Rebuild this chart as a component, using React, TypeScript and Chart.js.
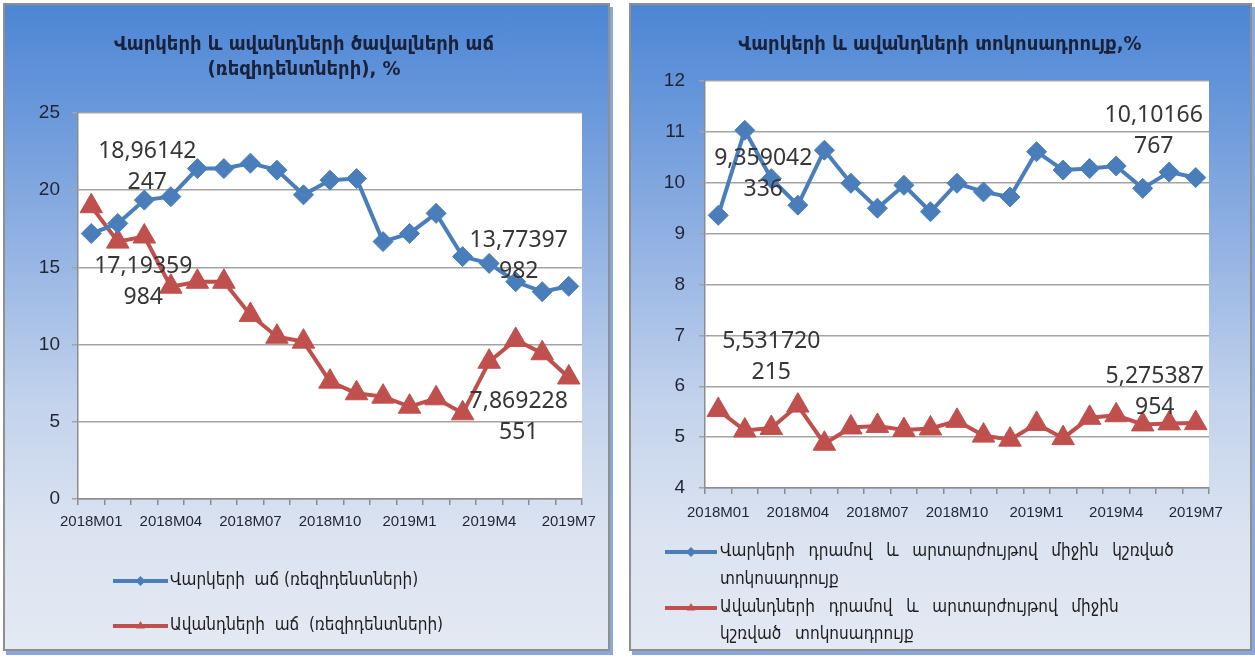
import React, { useEffect, useRef } from 'react';
import { Chart, registerables } from 'chart.js';

Chart.register(...registerables);

// ---------- DATA ----------
const months = [
  '2018M01', '2018M02', '2018M03', '2018M04', '2018M05', '2018M06',
  '2018M07', '2018M08', '2018M09', '2018M10', '2018M11', '2018M12',
  '2019M1', '2019M2', '2019M3', '2019M4', '2019M5', '2019M6', '2019M7',
];

// Left chart: growth of loans / deposits (residents), %
const loanGrowth = [
  17.19359984, 17.85, 19.36, 19.58, 21.4, 21.4, 21.75, 21.3, 19.7, 20.65,
  20.75, 16.67, 17.2, 18.5, 15.7, 15.26, 14.07, 13.43, 13.77397982,
];
const depositGrowth = [
  18.96142247, 16.67, 17.0, 13.75, 14.07, 14.07, 11.92, 10.51, 10.19, 7.6,
  6.85, 6.63, 5.98, 6.52, 5.55, 8.89, 10.3, 9.44, 7.869228551,
];

// Right chart: interest rates, %
const loanRate = [
  9.359042336, 11.03, 10.08, 9.56, 10.64, 9.99, 9.5, 9.95, 9.43, 9.99,
  9.82, 9.72, 10.61, 10.25, 10.28, 10.33, 9.89, 10.21, 10.10166767,
];
const depositRate = [
  5.531720215, 5.13, 5.18, 5.62, 4.87, 5.19, 5.22, 5.14, 5.17, 5.32,
  5.03, 4.95, 5.26, 4.98, 5.38, 5.43, 5.25, 5.27, 5.275387954,
];

const leftTicks = [0, 5, 10, 15, 20, 25];
const rightTicks = [4, 5, 6, 7, 8, 9, 10, 11, 12];

const leftTitle = ['Վարկերի և ավանդների ծավալների աճ', '(ռեզիդենտների), %'];
const rightTitle = ['Վարկերի և ավանդների տոկոսադրույք,%'];

const leftLegend = [
  ['Վարկերի  աճ (ռեզիդենտների)'],
  ['Ավանդների  աճ  (ռեզիդենտների)'],
];
const rightLegend = [
  ['Վարկերի  դրամով  և  արտարժույթով  միջին  կշռված', 'տոկոսադրույք'],
  ['Ավանդների  դրամով  և  արտարժույթով  միջին', 'կշռված  տոկոսադրույք'],
];

// ---------- STYLE ----------
const BLUE = '#4a7ebb';
const RED = '#c0504d';
const ARM_FONT = '"DejaVu Sans Condensed", "DejaVu Sans", sans-serif';
const NUM_FONT = '"Liberation Sans", Arial, sans-serif';
const LABEL_FONT = '"Noto Sans", "Open Sans", sans-serif';
const GRID = '#a3a3a3';
const AXIS = '#8c8c8c';
const TICK_COLOR = '#1f2533';

function fmt(v: number) {
  const s = String(v).replace('.', ',');
  return [s.slice(0, 8), s.slice(8)].filter((t) => t.length > 0);
}

function drawMarker(ctx: CanvasRenderingContext2D, style: string, x: number, y: number, r: number, color: string) {
  ctx.save();
  ctx.fillStyle = color;
  ctx.beginPath();
  if (style === 'rectRot') {
    ctx.moveTo(x, y - r);
    ctx.lineTo(x + r, y);
    ctx.lineTo(x, y + r);
    ctx.lineTo(x - r, y);
  } else {
    const h = r * 1.5;
    const w = r * Math.sqrt(3);
    ctx.moveTo(x, y - r);
    ctx.lineTo(x + w / 2, y - r + h);
    ctx.lineTo(x - w / 2, y - r + h);
  }
  ctx.closePath();
  ctx.fill();
  ctx.restore();
}

type LabelSpec = { ds: number; idx: number; dx: number; dy: number };
type PanelSpec = {
  width: number;
  height: number;
  yMin: number;
  yMax: number;
  yStep: number;
  yTicks: number[];
  yWidth: number;
  yPad: number;
  xPad: number;
  xFont: number;
  padding: { top: number; right: number; bottom: number };
  series: { label: string; data: number[]; color: string; style: string; radius: number }[];
  title: string[];
  titleY: number[];
  titleX: number;
  titleFont: number;
  legend: string[][];
  legendLine: [number, number];
  legendTextX: number;
  legendY: number[][];
  legendFont: number;
  legendWordSpacing: number;
  labels: LabelSpec[];
};

function buildChart(canvas: HTMLCanvasElement, p: PanelSpec) {
  const decor = {
    id: 'decor',
    beforeDraw(chart: any) {
      const { ctx, chartArea } = chart;
      ctx.save();
      ctx.fillStyle = '#ffffff';
      ctx.fillRect(chartArea.left, chartArea.top, chartArea.right - chartArea.left, chartArea.bottom - chartArea.top);
      ctx.restore();
    },
    afterDatasetsDraw(chart: any) {
      const ctx: CanvasRenderingContext2D = chart.ctx;
      ctx.save();
      ctx.font = `23px ${LABEL_FONT}`;
      ctx.fillStyle = '#363636';
      ctx.textAlign = 'center';
      ctx.textBaseline = 'middle';
      p.labels.forEach((l) => {
        const el = chart.getDatasetMeta(l.ds).data[l.idx];
        const v = chart.data.datasets[l.ds].data[l.idx];
        const lines = fmt(v);
        lines.forEach((t, k) => {
          ctx.fillText(t, el.x + l.dx, el.y + l.dy + k * 31);
        });
      });
      ctx.restore();
    },
    afterDraw(chart: any) {
      const ctx: any = chart.ctx;
      ctx.save();
      // title
      ctx.font = `bold ${p.titleFont}px ${ARM_FONT}`;
      ctx.fillStyle = '#19223a';
      ctx.textAlign = 'center';
      ctx.textBaseline = 'middle';
      p.title.forEach((t, i) => ctx.fillText(t, p.titleX, p.titleY[i]));
      // legend
      ctx.font = `${p.legendFont}px ${ARM_FONT}`;
      ctx.textAlign = 'left';
      try {
        ctx.wordSpacing = `${p.legendWordSpacing}px`;
      } catch (e) {
        /* ignore */
      }
      p.legend.forEach((lines, i) => {
        const s = p.series[i];
        const y0 = p.legendY[i][0];
        ctx.strokeStyle = s.color;
        ctx.lineWidth = 4;
        ctx.beginPath();
        ctx.moveTo(p.legendLine[0], y0);
        ctx.lineTo(p.legendLine[1], y0);
        ctx.stroke();
        drawMarker(ctx, s.style, (p.legendLine[0] + p.legendLine[1]) / 2, y0, 5, s.color);
        ctx.fillStyle = '#1e1e1e';
        lines.forEach((t, k) => ctx.fillText(t, p.legendTextX, p.legendY[i][k]));
      });
      ctx.restore();
    },
  };

  return new Chart(canvas, {
    type: 'line',
    data: {
      labels: months,
      datasets: p.series.map((s) => ({
        label: s.label,
        data: s.data,
        borderColor: s.color,
        backgroundColor: s.color,
        borderWidth: 4,
        pointStyle: s.style as any,
        pointRadius: s.radius,
        pointBorderWidth: 1,
        pointBackgroundColor: s.color,
        pointBorderColor: s.color,
        tension: 0,
        fill: false,
        clip: false as any,
      })),
    },
    options: {
      responsive: false,
      animation: false,
      devicePixelRatio: 1,
      events: [],
      layout: { padding: { top: p.padding.top, right: p.padding.right, bottom: p.padding.bottom, left: 0 } },
      plugins: {
        legend: { display: false },
        title: { display: false },
        tooltip: { enabled: false },
      },
      scales: {
        x: {
          type: 'category',
          offset: true,
          grid: {
            offset: true,
            drawOnChartArea: false,
            drawTicks: true,
            tickLength: 6,
            color: AXIS,
            lineWidth: 1.5,
          },
          border: { display: true, color: AXIS, width: 1.5 },
          ticks: {
            autoSkip: false,
            maxRotation: 0,
            minRotation: 0,
            padding: p.xPad,
            color: TICK_COLOR,
            font: { family: NUM_FONT, size: p.xFont },
            callback: (_v: any, i: number) => (i % 3 === 0 ? months[i] : ''),
          },
          afterFit: (s: any) => {
            s.height = 30;
          },
        },
        y: {
          min: p.yMin,
          max: p.yMax,
          afterBuildTicks: (s: any) => {
            s.ticks = p.yTicks.map((v) => ({ value: v }));
          },
          ticks: {
            stepSize: p.yStep,
            padding: p.yPad,
            color: TICK_COLOR,
            font: { family: NUM_FONT, size: 19 },
          },
          grid: { color: GRID, lineWidth: 1.5, drawTicks: true, tickLength: 6 },
          border: { display: true, color: AXIS, width: 1.5 },
          afterFit: (s: any) => {
            s.width = p.yWidth;
          },
        },
      },
    },
    plugins: [decor],
  } as any);
}

const leftSpec: PanelSpec = {
  width: 603,
  height: 644,
  yMin: 0,
  yMax: 25,
  yStep: 5,
  yTicks: leftTicks,
  yWidth: 73,
  yPad: 12,
  xPad: 8,
  xFont: 15,
  padding: { top: 108, right: 26, bottom: 120 },
  series: [
    { label: 'Վարկերի աճ (ռեզիդենտների)', data: loanGrowth, color: BLUE, style: 'rectRot', radius: 10 },
    { label: 'Ավանդների աճ (ռեզիդենտների)', data: depositGrowth, color: RED, style: 'triangle', radius: 13 },
  ],
  title: leftTitle,
  titleY: [40, 65],
  titleX: 299,
  titleFont: 20,
  legend: leftLegend,
  legendLine: [108, 163],
  legendTextX: 165,
  legendY: [[576], [621]],
  legendFont: 17,
  legendWordSpacing: 0,
  labels: [
    { ds: 0, idx: 0, dx: 52, dy: 33 },
    { ds: 1, idx: 0, dx: 56, dy: -55 },
    { ds: 0, idx: 18, dx: -50, dy: -46 },
    { ds: 1, idx: 18, dx: -50, dy: 24 },
  ],
};

const rightSpec: PanelSpec = {
  width: 619,
  height: 644,
  yMin: 4,
  yMax: 12,
  yStep: 1,
  yTicks: rightTicks,
  yWidth: 74,
  yPad: 14,
  xPad: 10,
  xFont: 15,
  padding: { top: 76, right: 41, bottom: 131 },
  series: [
    { label: 'Վարկերի դրամով և արտարժույթով միջին կշռված տոկոսադրույք', data: loanRate, color: BLUE, style: 'rectRot', radius: 10 },
    { label: 'Ավանդների դրամով և արտարժույթով միջին կշռված տոկոսադրույք', data: depositRate, color: RED, style: 'triangle', radius: 13 },
  ],
  title: rightTitle,
  titleY: [40],
  titleX: 309,
  titleFont: 20,
  legend: rightLegend,
  legendLine: [34, 86],
  legendTextX: 89,
  legendY: [[547, 575], [603, 630]],
  legendFont: 17,
  legendWordSpacing: 2,
  labels: [
    { ds: 0, idx: 0, dx: 45, dy: -57 },
    { ds: 1, idx: 0, dx: 53, dy: -69 },
    { ds: 0, idx: 18, dx: -42, dy: -62 },
    { ds: 1, idx: 18, dx: -41, dy: -47 },
  ],
};

function Panel({ spec, left, width }: { spec: PanelSpec; left: number; width: number }) {
  const ref = useRef<HTMLCanvasElement>(null);
  useEffect(() => {
    if (!ref.current) return;
    const chart = buildChart(ref.current, spec);
    return () => chart.destroy();
  }, [spec]);
  return (
    <div
      style={{
        position: 'absolute',
        left,
        top: 3,
        width,
        height: 648,
        boxSizing: 'border-box',
        border: '2px solid #8f8f8f',
        background:
          'linear-gradient(180deg, #4c86d5 0%, #6d9adb 18%, #98b6e4 40%, #c3d3ec 62%, #dbe3f1 82%, #e4e9f3 100%)',
        boxShadow: '3px 4px 0 #88a8da',
      }}
    >
      <canvas
        ref={ref}
        width={spec.width}
        height={spec.height}
        style={{ display: 'block', width: spec.width, height: spec.height }}
      />
    </div>
  );
}

export default function App() {
  return (
    <div
      style={{
        position: 'fixed',
        left: 0,
        top: 0,
        width: 1255,
        height: 658,
        background: '#ffffff',
        overflow: 'hidden',
      }}
    >
      <Panel spec={leftSpec} left={3} width={607} />
      <Panel spec={rightSpec} left={629} width={623} />
    </div>
  );
}
